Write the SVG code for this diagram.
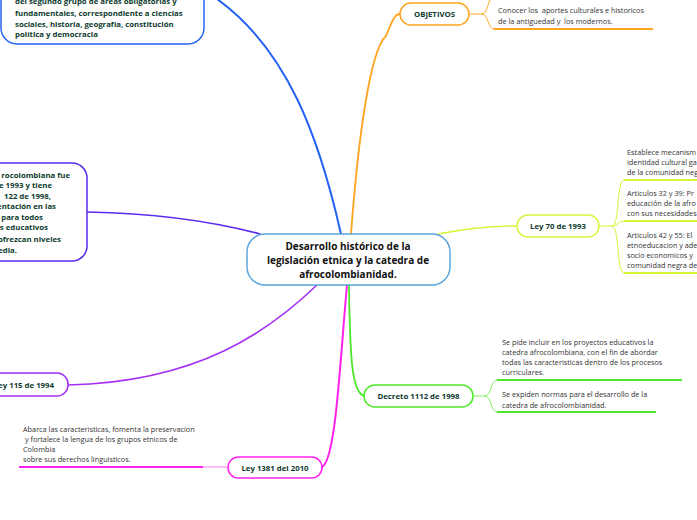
<svg xmlns="http://www.w3.org/2000/svg" width="697" height="520" viewBox="0 0 697 520">
<style>
.bg{fill:#ffffff}
.node{fill:#ffffff;stroke-width:1.5}
.lbl{font-family:"Open Sans","Noto Sans",sans-serif;font-weight:bold;fill:#0d3b2e}
.body{font-family:"Open Sans","Noto Sans",sans-serif;font-size:7.3px;fill:#333333;white-space:pre}
.c{fill:none;stroke-linecap:round}
</style>
<rect class="bg" x="0" y="0" width="697" height="520"/>
<g id="connectors">
  <path class="c" d="M341,234 C322,150 290,40 200,-12" stroke="#2563f5" stroke-width="2"/>
  <path class="c" d="M351,234 C358,140 370,50 386,36 C392,22 394,14 400,14" stroke="#ffa41f" stroke-width="1.8"/>
  <path class="c" d="M438,234 C470,228 490,226 517,226" stroke="#d8f53c" stroke-width="1.5"/>
  <path class="c" d="M349,285 C350,360 352,392 364,396" stroke="#4de82c" stroke-width="1.8"/>
  <path class="c" d="M347,285 C340,360 336,460 322,467" stroke="#ff22ee" stroke-width="2"/>
  <path class="c" d="M317,285 C270,330 200,382 68,385" stroke="#a52ef5" stroke-width="1.6"/>
  <path class="c" d="M260,234 C200,218 140,213 87,212" stroke="#5a2cf0" stroke-width="1.6"/>
  <path class="c" d="M469,14 L482,14 C488,14 488,29 494,29" stroke="#ffa41f" stroke-width="1"/>
  <path class="c" d="M482,14 C487,14 488,2 491,-2" stroke="#ffa41f" stroke-width="1"/>
  <line x1="494" y1="29" x2="653" y2="29" stroke="#ffa41f" stroke-width="1.8"/>
  <path class="c" d="M599,226 L612,226 C620,226 616,180 624,180" stroke="#d8f53c" stroke-width="1"/>
  <path class="c" d="M612,226 C618,226 618,221 624,221" stroke="#d8f53c" stroke-width="1"/>
  <path class="c" d="M612,226 C620,226 616,273 624,273" stroke="#d8f53c" stroke-width="1"/>
  <line x1="624" y1="180" x2="697" y2="180" stroke="#d8f53c" stroke-width="1.8"/>
  <line x1="624" y1="221" x2="697" y2="221" stroke="#d8f53c" stroke-width="1.8"/>
  <line x1="624" y1="273" x2="697" y2="273" stroke="#d8f53c" stroke-width="1.8"/>
  <path class="c" d="M473,396 L485,396 C492,396 490,380 497,380" stroke="#7ef060" stroke-width="1"/>
  <path class="c" d="M485,396 C492,396 490,412 497,412" stroke="#7ef060" stroke-width="1"/>
  <line x1="497" y1="380" x2="682" y2="380" stroke="#4de82c" stroke-width="1.8"/>
  <line x1="497" y1="412" x2="656" y2="412" stroke="#4de82c" stroke-width="1.8"/>
  <line x1="203" y1="467" x2="228" y2="467" stroke="#ffaaf5" stroke-width="1.5"/>
  <line x1="19" y1="467" x2="203" y2="467" stroke="#ff22ee" stroke-width="1.8"/>
</g>
<g id="n-top-left">
  <rect class="node" x="1" y="-40" width="203" height="84" rx="16" stroke="#2563f5"/>
  <g class="lbl" font-size="7.8">
    <text x="15" y="4">del segundo grupo de areas obligatorias y</text>
    <text x="15" y="16">fundamentales, correspondiente a ciencias</text>
    <text x="15" y="27">sociales, historia, geografía, constitución</text>
    <text x="15" y="37">política y democracia</text>
  </g>
</g>
<g id="n-left">
  <rect class="node" x="-30" y="163" width="117" height="98" rx="15" stroke="#5a2cf0"/>
  <g class="lbl" font-size="7.8" text-anchor="end">
    <text x="70" y="178">rocolombiana fue</text>
    <text x="52" y="188">e 1993 y tiene</text>
    <text x="51" y="199">122 de 1998,</text>
    <text x="56" y="209">entación en las</text>
    <text x="43" y="220">para todos</text>
    <text x="48" y="230">s educativos</text>
    <text x="61" y="242">ofrezcan niveles</text>
    <text x="17" y="253">edia.</text>
  </g>
</g>
<g id="n-center">
  <rect class="node" x="247" y="234" width="203" height="51" rx="18" stroke="#5aa5dc"/>
  <g class="lbl" font-size="10" text-anchor="middle" style="fill:#111111">
    <text x="348" y="250">Desarrollo histórico de la</text>
    <text x="348" y="264">legislación etnica y la catedra de</text>
    <text x="348" y="278">afrocolombianidad.</text>
  </g>
</g>
<g id="n-objetivos">
  <rect class="node" x="400" y="3" width="69" height="22" rx="11" stroke="#ffa41f"/>
  <text class="lbl" font-size="7.8" x="434.5" y="17" text-anchor="middle">OBJETIVOS</text>
  <text class="body" x="498" y="13">Conocer los  aportes culturales e historicos</text>
  <text class="body" x="498" y="24">de la antiguedad y  los modernos.</text>
</g>
<g id="n-ley70">
  <rect class="node" x="517" y="215" width="82" height="22" rx="11" stroke="#d8f53c"/>
  <text class="lbl" font-size="7.8" x="558" y="229" text-anchor="middle">Ley 70 de 1993</text>
  <text class="body" x="627" y="155">Establece mecanism</text>
  <text class="body" x="627" y="165">identidad cultural ga</text>
  <text class="body" x="627" y="175">de la comunidad neg</text>
  <text class="body" x="627" y="196">Articulos 32 y 39: Pr</text>
  <text class="body" x="627" y="206">educación de la afro</text>
  <text class="body" x="627" y="216">con sus necesidades</text>
  <text class="body" x="627" y="238">Articulos 42 y 55: El</text>
  <text class="body" x="627" y="248">etnoeducacion y ade</text>
  <text class="body" x="627" y="258">socio economicos y</text>
  <text class="body" x="627" y="268">comunidad negra de</text>
</g>
<g id="n-decreto">
  <rect class="node" x="364" y="385" width="109" height="22" rx="11" stroke="#4de82c"/>
  <text class="lbl" font-size="7.8" x="418.5" y="399" text-anchor="middle">Decreto 1112 de 1998</text>
  <text class="body" x="502" y="345">Se pide incluir en los proyectos educativos la</text>
  <text class="body" x="502" y="355">catedra afrocolombiana, con el fin de abordar</text>
  <text class="body" x="502" y="365">todas las caracteristicas dentro de los procesos</text>
  <text class="body" x="502" y="375">curriculares.</text>
  <text class="body" x="502" y="397">Se expiden normas para el desarrollo de la</text>
  <text class="body" x="502" y="408">catedra de afrocolombianidad.</text>
</g>
<g id="n-ley115">
  <rect class="node" x="-30" y="373" width="98" height="23" rx="11" stroke="#a52ef5"/>
  <text class="lbl" font-size="7.8" x="54" y="388" text-anchor="end">Ley 115 de 1994</text>
</g>
<g id="n-ley1381">
  <rect class="node" x="228" y="457" width="94" height="21" rx="10.5" stroke="#ff22ee"/>
  <text class="lbl" font-size="7.8" x="275" y="470.5" text-anchor="middle">Ley 1381 del 2010</text>
  <text class="body" x="23" y="432">Abarca las caracteristicas, fomenta la preservacion</text>
  <text class="body" x="23" y="442"> y fortalece la lengua de los grupos etnicos de</text>
  <text class="body" x="23" y="452">Colombia</text>
  <text class="body" x="23" y="462">sobre sus derechos linguisticos.</text>
</g>
</svg>
